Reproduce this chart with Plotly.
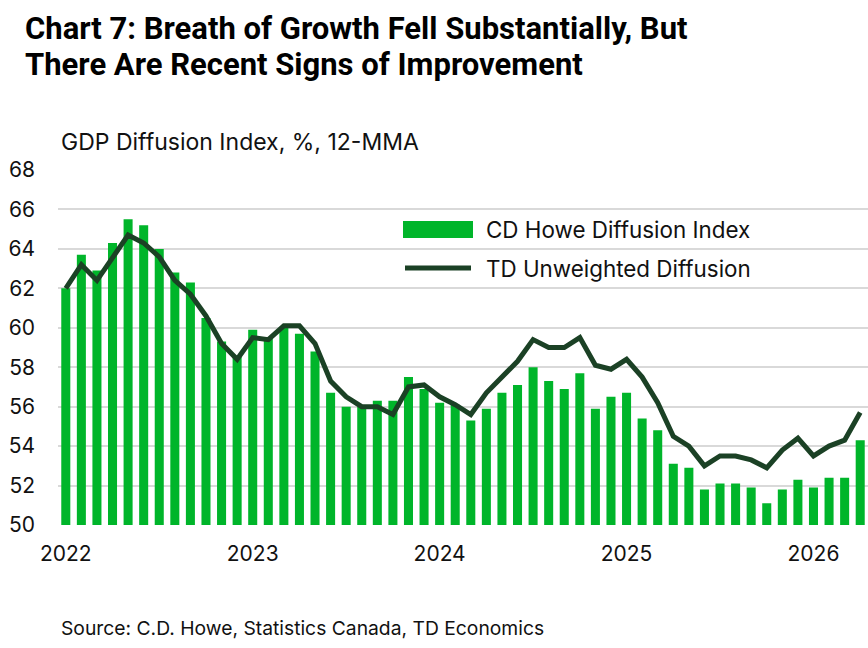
import plotly.graph_objects as go

months = [f"{y}-{m:02d}" for y in range(2022, 2027) for m in range(1, 13)][:52]

cd_howe = [62.0, 63.7, 62.9, 64.3, 65.5, 65.2, 64.0, 62.8, 62.3, 60.5, 59.3, 58.6,
           59.9, 59.5, 60.0, 59.7, 58.8, 56.7, 56.0, 56.0, 56.3, 56.3, 57.5, 56.9,
           56.2, 56.1, 55.3, 55.9, 56.7, 57.1, 58.0, 57.3, 56.9, 57.7, 55.9, 56.5,
           56.7, 55.4, 54.8, 53.1, 52.9, 51.8, 52.1, 52.1, 51.9, 51.1, 51.8, 52.3,
           51.9, 52.4, 52.4, 54.3]

td_unweighted = [62.0, 63.2, 62.4, 63.5, 64.7, 64.3, 63.6, 62.4, 61.7, 60.6, 59.2, 58.4,
                 59.5, 59.4, 60.1, 60.1, 59.2, 57.3, 56.5, 56.0, 56.0, 55.6, 57.0, 57.1,
                 56.5, 56.1, 55.6, 56.7, 57.5, 58.3, 59.4, 59.0, 59.0, 59.5, 58.1, 57.9,
                 58.4, 57.5, 56.2, 54.5, 54.0, 53.0, 53.5, 53.5, 53.3, 52.9, 53.8, 54.4,
                 53.5, 54.0, 54.3, 55.7]

year_ticks = ["2022-01", "2023-01", "2024-01", "2025-01", "2026-01"]
year_labels = ["2022", "2023", "2024", "2025", "2026"]
y_ticks = list(range(50, 70, 2))

title_lines = ["Chart 7: Breath of Growth Fell Substantially, But",
               "There Are Recent Signs of Improvement"]

bar_color = "#00B52A"
line_color = "#1B4125"
font_main = "Inter, Open Sans, sans-serif"

fig = go.Figure()
fig.add_trace(go.Bar(x=months, y=cd_howe, name="CD Howe Diffusion Index",
                     marker=dict(color=bar_color, line=dict(width=0)), showlegend=False))
fig.add_trace(go.Scatter(x=months, y=td_unweighted, name="TD Unweighted Diffusion",
                         mode="lines", line=dict(color=line_color, width=5), showlegend=False))

fig.update_layout(
    width=868, height=648,
    margin=dict(l=58, r=0, t=170, b=123),
    paper_bgcolor="white", plot_bgcolor="white",
    bargap=0.42,
    font=dict(family=font_main, color="#111111"),
    xaxis=dict(type="category", categoryorder="array", categoryarray=months,
               tickmode="array", tickvals=year_ticks, ticktext=year_labels,
               tickfont=dict(size=21, color="#111111"), showgrid=False, ticks="",
               showline=False, zeroline=False, range=[-0.5, 51.5], ticklabelstandoff=14),
    yaxis=dict(range=[50, 68], tickvals=y_ticks, showgrid=True, gridcolor="#D9D9D9",
               gridwidth=2, zeroline=False, showline=False, ticks="",
               tickfont=dict(size=21, color="#111111"), ticklabelstandoff=22),
)

def px_x(p):
    return (p - 58) / 810

def px_y(p):
    return (525 - p) / 355

# Title (two lines) and subtitle
for line_text, yc in zip(title_lines, [28, 65]):
    fig.add_annotation(text=f"<b>{line_text}</b>", xref="paper", yref="paper",
                       x=px_x(23), y=px_y(yc), xanchor="left", yanchor="middle",
                       align="left", showarrow=False,
                       font=dict(family="Roboto, sans-serif", size=31, color="#000000"))
fig.add_annotation(text="GDP Diffusion Index, %, 12-MMA", xref="paper", yref="paper",
                   x=px_x(59), y=px_y(142), xanchor="left", yanchor="middle",
                   showarrow=False, font=dict(family=font_main, size=23, color="#111111"))
fig.add_annotation(text="Source: C.D. Howe, Statistics Canada, TD Economics", xref="paper", yref="paper",
                   x=px_x(59), y=px_y(628), xanchor="left", yanchor="middle",
                   showarrow=False, font=dict(family=font_main, size=19.3, color="#111111"))

# Legend (manual)
fig.add_shape(type="rect", xref="paper", yref="paper", x0=px_x(403), x1=px_x(473),
              y0=px_y(238), y1=px_y(221), fillcolor=bar_color, line=dict(width=0))
fig.add_shape(type="line", xref="paper", yref="paper", x0=px_x(405), x1=px_x(471),
              y0=px_y(268), y1=px_y(268), line=dict(color=line_color, width=5))
fig.add_annotation(text="CD Howe Diffusion Index", xref="paper", yref="paper", x=px_x(484), y=px_y(229),
                   xanchor="left", yanchor="middle", showarrow=False,
                   font=dict(family=font_main, size=22.4, color="#111111"))
fig.add_annotation(text="TD Unweighted Diffusion", xref="paper", yref="paper", x=px_x(484), y=px_y(268),
                   xanchor="left", yanchor="middle", showarrow=False,
                   font=dict(family=font_main, size=22.4, color="#111111"))

fig.write_html("out.html")
